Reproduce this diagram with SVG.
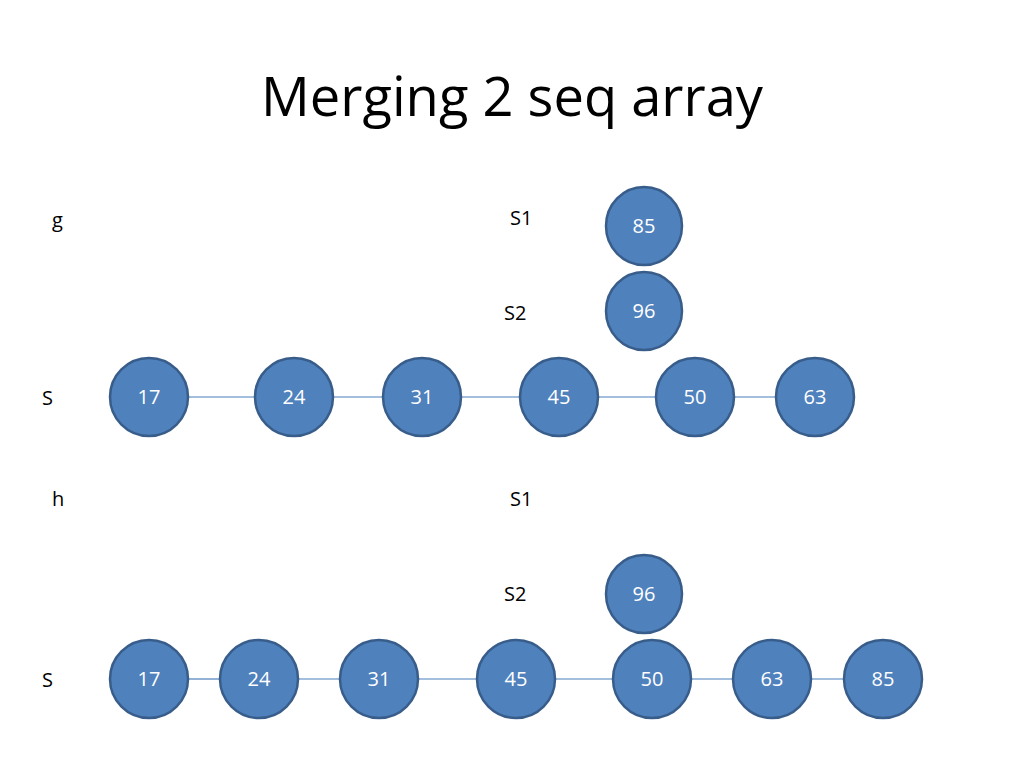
<svg xmlns="http://www.w3.org/2000/svg" width="1024" height="768" viewBox="0 0 1024 768">
<style>
.n{fill:#4F81BD;stroke:#385D8A;stroke-width:2.5}
.t{font-family:"Open Sans","Liberation Sans",sans-serif;font-size:20px;fill:#fff;text-anchor:middle}
.l{font-family:"Open Sans","Liberation Sans",sans-serif;font-size:20px;fill:#000}
.c{stroke:#4A7EBB;stroke-width:1.2;fill:none}
</style>
<rect width="1024" height="768" fill="#fff"/>
<text x="512" y="116" font-family="Open Sans, Liberation Sans, sans-serif" font-size="55" text-anchor="middle" textLength="502" lengthAdjust="spacingAndGlyphs">Merging 2 seq array</text>
<text class="l" x="52" y="227">g</text>
<text class="l" x="510" y="225">S1</text>
<text class="l" x="504" y="320">S2</text>
<text class="l" x="42" y="405">S</text>
<text class="l" x="52" y="506">h</text>
<text class="l" x="510" y="506">S1</text>
<text class="l" x="504" y="601">S2</text>
<text class="l" x="42" y="687">S</text>
<g id="connectors">
<line class="c" x1="188" y1="397" x2="255" y2="397"/>
<line class="c" x1="333" y1="397" x2="383" y2="397"/>
<line class="c" x1="461" y1="397" x2="520" y2="397"/>
<line class="c" x1="598" y1="397" x2="656" y2="397"/>
<line class="c" x1="734" y1="397" x2="776" y2="397"/>
<line class="c" x1="188" y1="679" x2="220" y2="679"/>
<line class="c" x1="298" y1="679" x2="340" y2="679"/>
<line class="c" x1="418" y1="679" x2="477" y2="679"/>
<line class="c" x1="555" y1="679" x2="613" y2="679"/>
<line class="c" x1="691" y1="679" x2="733" y2="679"/>
<line class="c" x1="811" y1="679" x2="844" y2="679"/>
</g>
<g id="g85a"><ellipse class="n" cx="644" cy="226" rx="38" ry="39"/><text class="t" x="644" y="233">85</text></g>
<g id="g96a"><ellipse class="n" cx="644" cy="311" rx="38" ry="39"/><text class="t" x="644" y="318">96</text></g>
<g id="a17"><circle class="n" cx="149" cy="397" r="39"/><text class="t" x="149" y="404">17</text></g>
<g id="a24"><circle class="n" cx="294" cy="397" r="39"/><text class="t" x="294" y="404">24</text></g>
<g id="a31"><circle class="n" cx="422" cy="397" r="39"/><text class="t" x="422" y="404">31</text></g>
<g id="a45"><circle class="n" cx="559" cy="397" r="39"/><text class="t" x="559" y="404">45</text></g>
<g id="a50"><circle class="n" cx="695" cy="397" r="39"/><text class="t" x="695" y="404">50</text></g>
<g id="a63"><circle class="n" cx="815" cy="397" r="39"/><text class="t" x="815" y="404">63</text></g>
<g id="h96"><ellipse class="n" cx="644" cy="594" rx="38" ry="39"/><text class="t" x="644" y="601">96</text></g>
<g id="b17"><circle class="n" cx="149" cy="679" r="39"/><text class="t" x="149" y="686">17</text></g>
<g id="b24"><circle class="n" cx="259" cy="679" r="39"/><text class="t" x="259" y="686">24</text></g>
<g id="b31"><circle class="n" cx="379" cy="679" r="39"/><text class="t" x="379" y="686">31</text></g>
<g id="b45"><circle class="n" cx="516" cy="679" r="39"/><text class="t" x="516" y="686">45</text></g>
<g id="b50"><circle class="n" cx="652" cy="679" r="39"/><text class="t" x="652" y="686">50</text></g>
<g id="b63"><circle class="n" cx="772" cy="679" r="39"/><text class="t" x="772" y="686">63</text></g>
<g id="b85"><circle class="n" cx="883" cy="679" r="39"/><text class="t" x="883" y="686">85</text></g>
</svg>
